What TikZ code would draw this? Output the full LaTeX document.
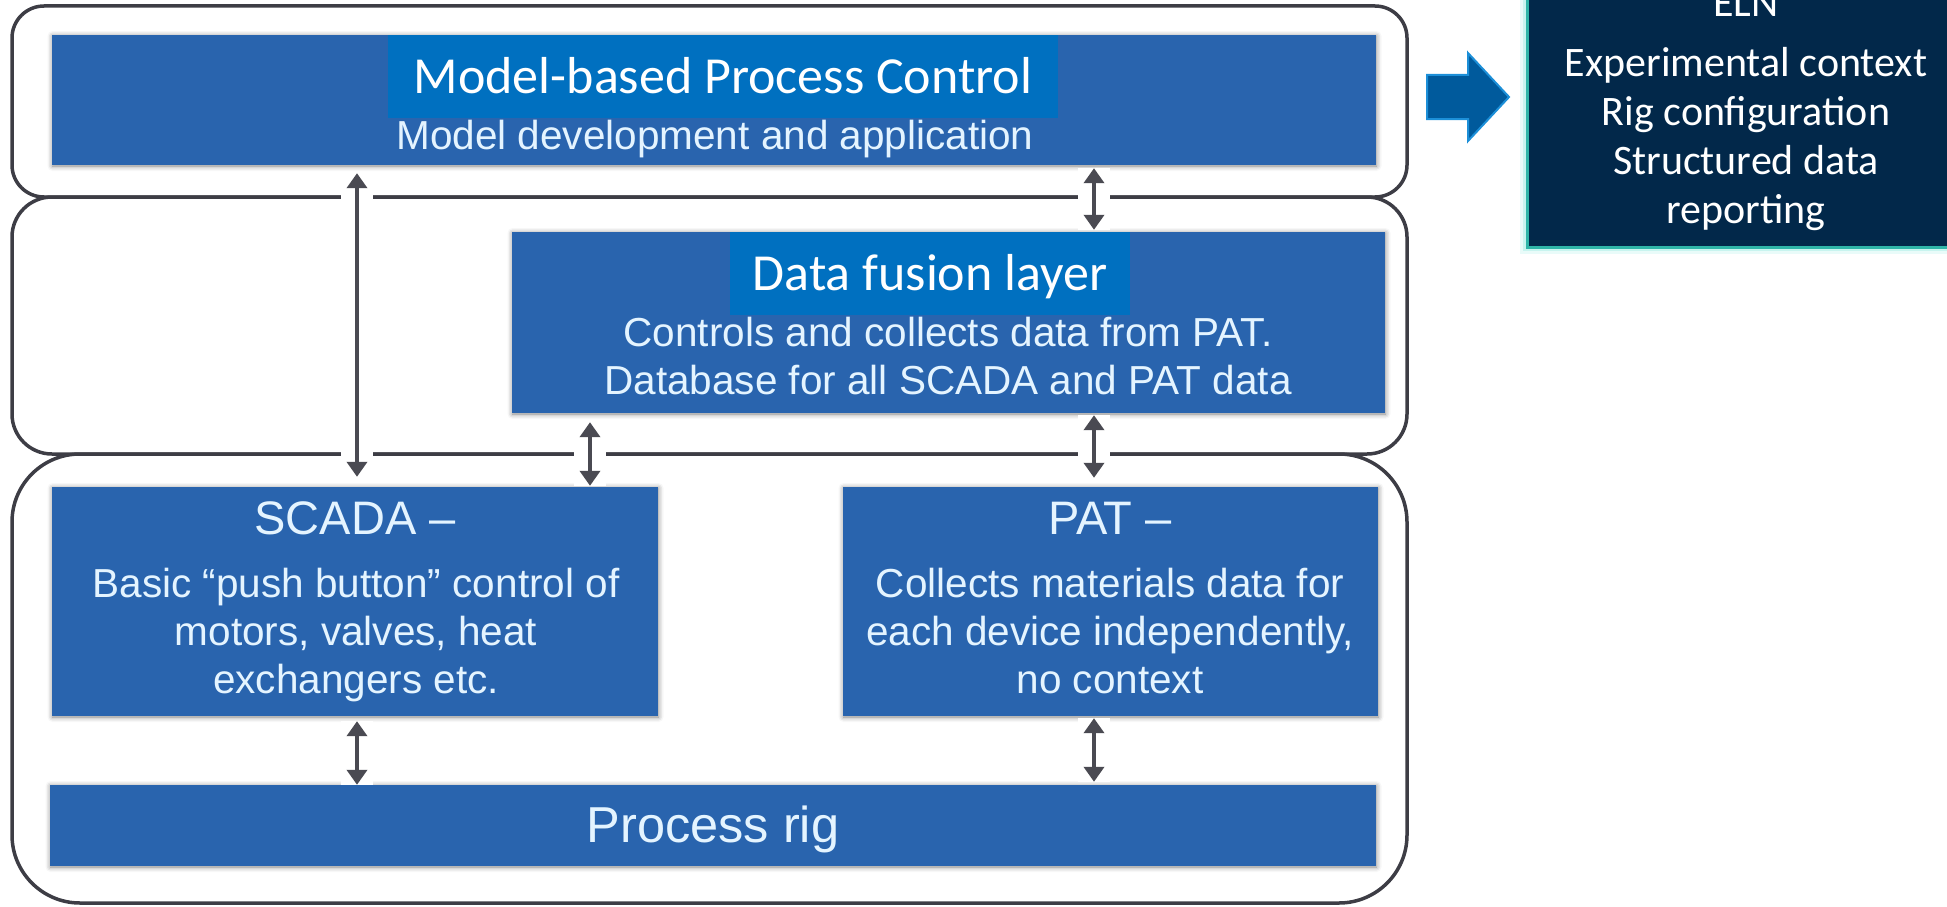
\documentclass[tikz,border=0pt]{standalone}
\usepackage{fontspec}
\setmainfont{Liberation Sans}
\newfontfamily\titlefont{Carlito}
\usetikzlibrary{arrows.meta,shadows.blur}

\definecolor{layerline}{HTML}{3D3D45}
\definecolor{boxblue}{HTML}{2964AE}
\definecolor{labelblue}{HTML}{0070C0}
\definecolor{boxtext}{HTML}{E4F4FF}
\definecolor{linkgray}{HTML}{4A4A52}
\definecolor{elnfill}{HTML}{02284A}
\definecolor{elnedge}{HTML}{2FB5A8}
\definecolor{elnglow}{HTML}{A8EEE6}
\definecolor{bigarrow}{HTML}{005A9C}
\definecolor{bigarrowedge}{HTML}{1C8FD8}

\newcommand{\bodysize}{\fontsize{40.5}{48}\selectfont}
\newcommand{\headsize}{\fontsize{47}{56}\selectfont}
\newcommand{\rigsize}{\fontsize{50.5}{60}\selectfont}
\newcommand{\titlesize}{\titlefont\fontsize{52}{62}\selectfont}
\newcommand{\elnsize}{\titlefont\fontsize{42}{48.7}\selectfont}
\newcommand{\lines}[1]{\begin{tabular}[t]{@{}c@{}}#1\end{tabular}}

\begin{document}
\begin{tikzpicture}[x=1pt,y=-1pt,
  layer/.style={draw=layerline, line width=3.5pt},
  block/.style={fill=boxblue, inner sep=0pt, draw=none,
    blur shadow={shadow xshift=0.5pt, shadow yshift=-1pt,
      shadow blur radius=5pt, shadow opacity=50}},
  tag/.style={fill=labelblue, text=white, inner sep=0pt,
    font=\titlesize, text height=33pt, text depth=0pt},
  boxlabel/.style={anchor=base, inner sep=0pt, text=boxtext},
  link/.style={draw=linkgray, line width=4pt,
    {Triangle[width=20pt,length=15pt]}-{Triangle[width=20pt,length=15pt]},
    preaction={draw=white, line width=32pt, arrows=-}},
]
\useasboundingbox (0,0) rectangle (1947,907);
\begin{scope}
\clip (0,0) rectangle (1947,907);

% three layer frames
\draw[layer, rounded corners=32pt] (12,6) rectangle (1407,197);
\draw[layer, rounded corners=40pt] (12,197) rectangle (1407,454);
\draw[layer, rounded corners=68pt] (12,454) rectangle (1407,903);

% blue blocks
\node[block, minimum width=1324pt, minimum height=130pt] (mpc)   at (714,100) {};
\node[block, minimum width=873pt,  minimum height=181pt] (df)    at (948.5,322.5) {};
\node[block, minimum width=606pt,  minimum height=229pt] (scada) at (355,601.5) {};
\node[block, minimum width=535pt,  minimum height=229pt] (pat)   at (1110.5,601.5) {};
\node[block, minimum width=1326pt, minimum height=81pt]  (rig)   at (713,825.5) {};

% connector columns
\coordinate (lcol) at (357,0);
\coordinate (mcol) at (590,0);
\coordinate (rcol) at (1094,0);

% two-way links
\draw[link, shorten <=8pt, shorten >=10pt] (mpc.south -| lcol) -- (scada.north -| lcol);
\draw[link, shorten <=9pt, shorten >=1pt]  (df.south -| mcol)  -- (scada.north -| mcol);
\draw[link, shorten <=3pt, shorten >=2pt]  (mpc.south -| rcol) -- (df.north -| rcol);
\draw[link, shorten <=2pt, shorten >=9pt]  (df.south -| rcol)  -- (pat.north -| rcol);
\draw[link, shorten <=5pt, shorten >=0pt]  (scada.south -| lcol) -- (rig.north -| lcol);
\draw[link, shorten <=2pt, shorten >=3pt]  (pat.south -| rcol) -- (rig.north -| rcol);

% title tags
\node[tag, minimum width=670pt, minimum height=83pt] (mpctag) at (723,76.5) {Model-based Process Control};
\node[tag, minimum width=400pt, minimum height=83pt] (dftag)  at (930,273.5) {Data fusion layer};

% block texts
\node[boxlabel, font=\bodysize] (mpctext) at (715,149) {Model development and application};
\node[boxlabel, font=\bodysize] (dftext) at (948,346)
  {\lines{Controls and collects data from PAT.\\ Database for all SCADA and PAT data}};
\node[boxlabel, font=\headsize] (scadahead) at (355,534) {SCADA –};
\node[boxlabel, font=\bodysize] (scadatext) at (356,597)
  {\lines{Basic “push button” control of\\ motors, valves, heat\\ exchangers etc.}};
\node[boxlabel, font=\headsize] (pathead) at (1110,534) {PAT –};
\node[boxlabel, font=\bodysize] (pattext) at (1110,597)
  {\lines{Collects materials data for\\ each device independently,\\ no context}};
\node[boxlabel, font=\rigsize] (rigtext) at (713,842) {Process rig};

% block arrow towards the notebook panel
\draw[fill=bigarrow, draw=bigarrowedge, line width=2pt, line join=miter]
  (1427,75) -- (1468,75) -- (1468,53) -- (1509,97) -- (1468,141)
  -- (1468,119) -- (1427,119) -- cycle;

% electronic lab notebook panel
\draw[draw=elnglow, line width=14pt, opacity=0.25] (1527,-30) rectangle (1990,247);
\draw[draw=elnglow, line width=8pt, opacity=0.5] (1527,-30) rectangle (1990,247);
\draw[fill=elnfill, draw=elnedge, line width=3pt] (1527,-30) rectangle (1990,247);
\node[anchor=base, inner sep=0pt, text=white, font=\elnsize] (elnhead) at (1746,17) {ELN};
\node[anchor=base, inner sep=0pt, text=white, font=\elnsize] (elntext) at (1746,77)
  {\lines{Experimental context\\ Rig configuration\\ Structured data\\ reporting}};
\end{scope}
\end{tikzpicture}
\end{document}
